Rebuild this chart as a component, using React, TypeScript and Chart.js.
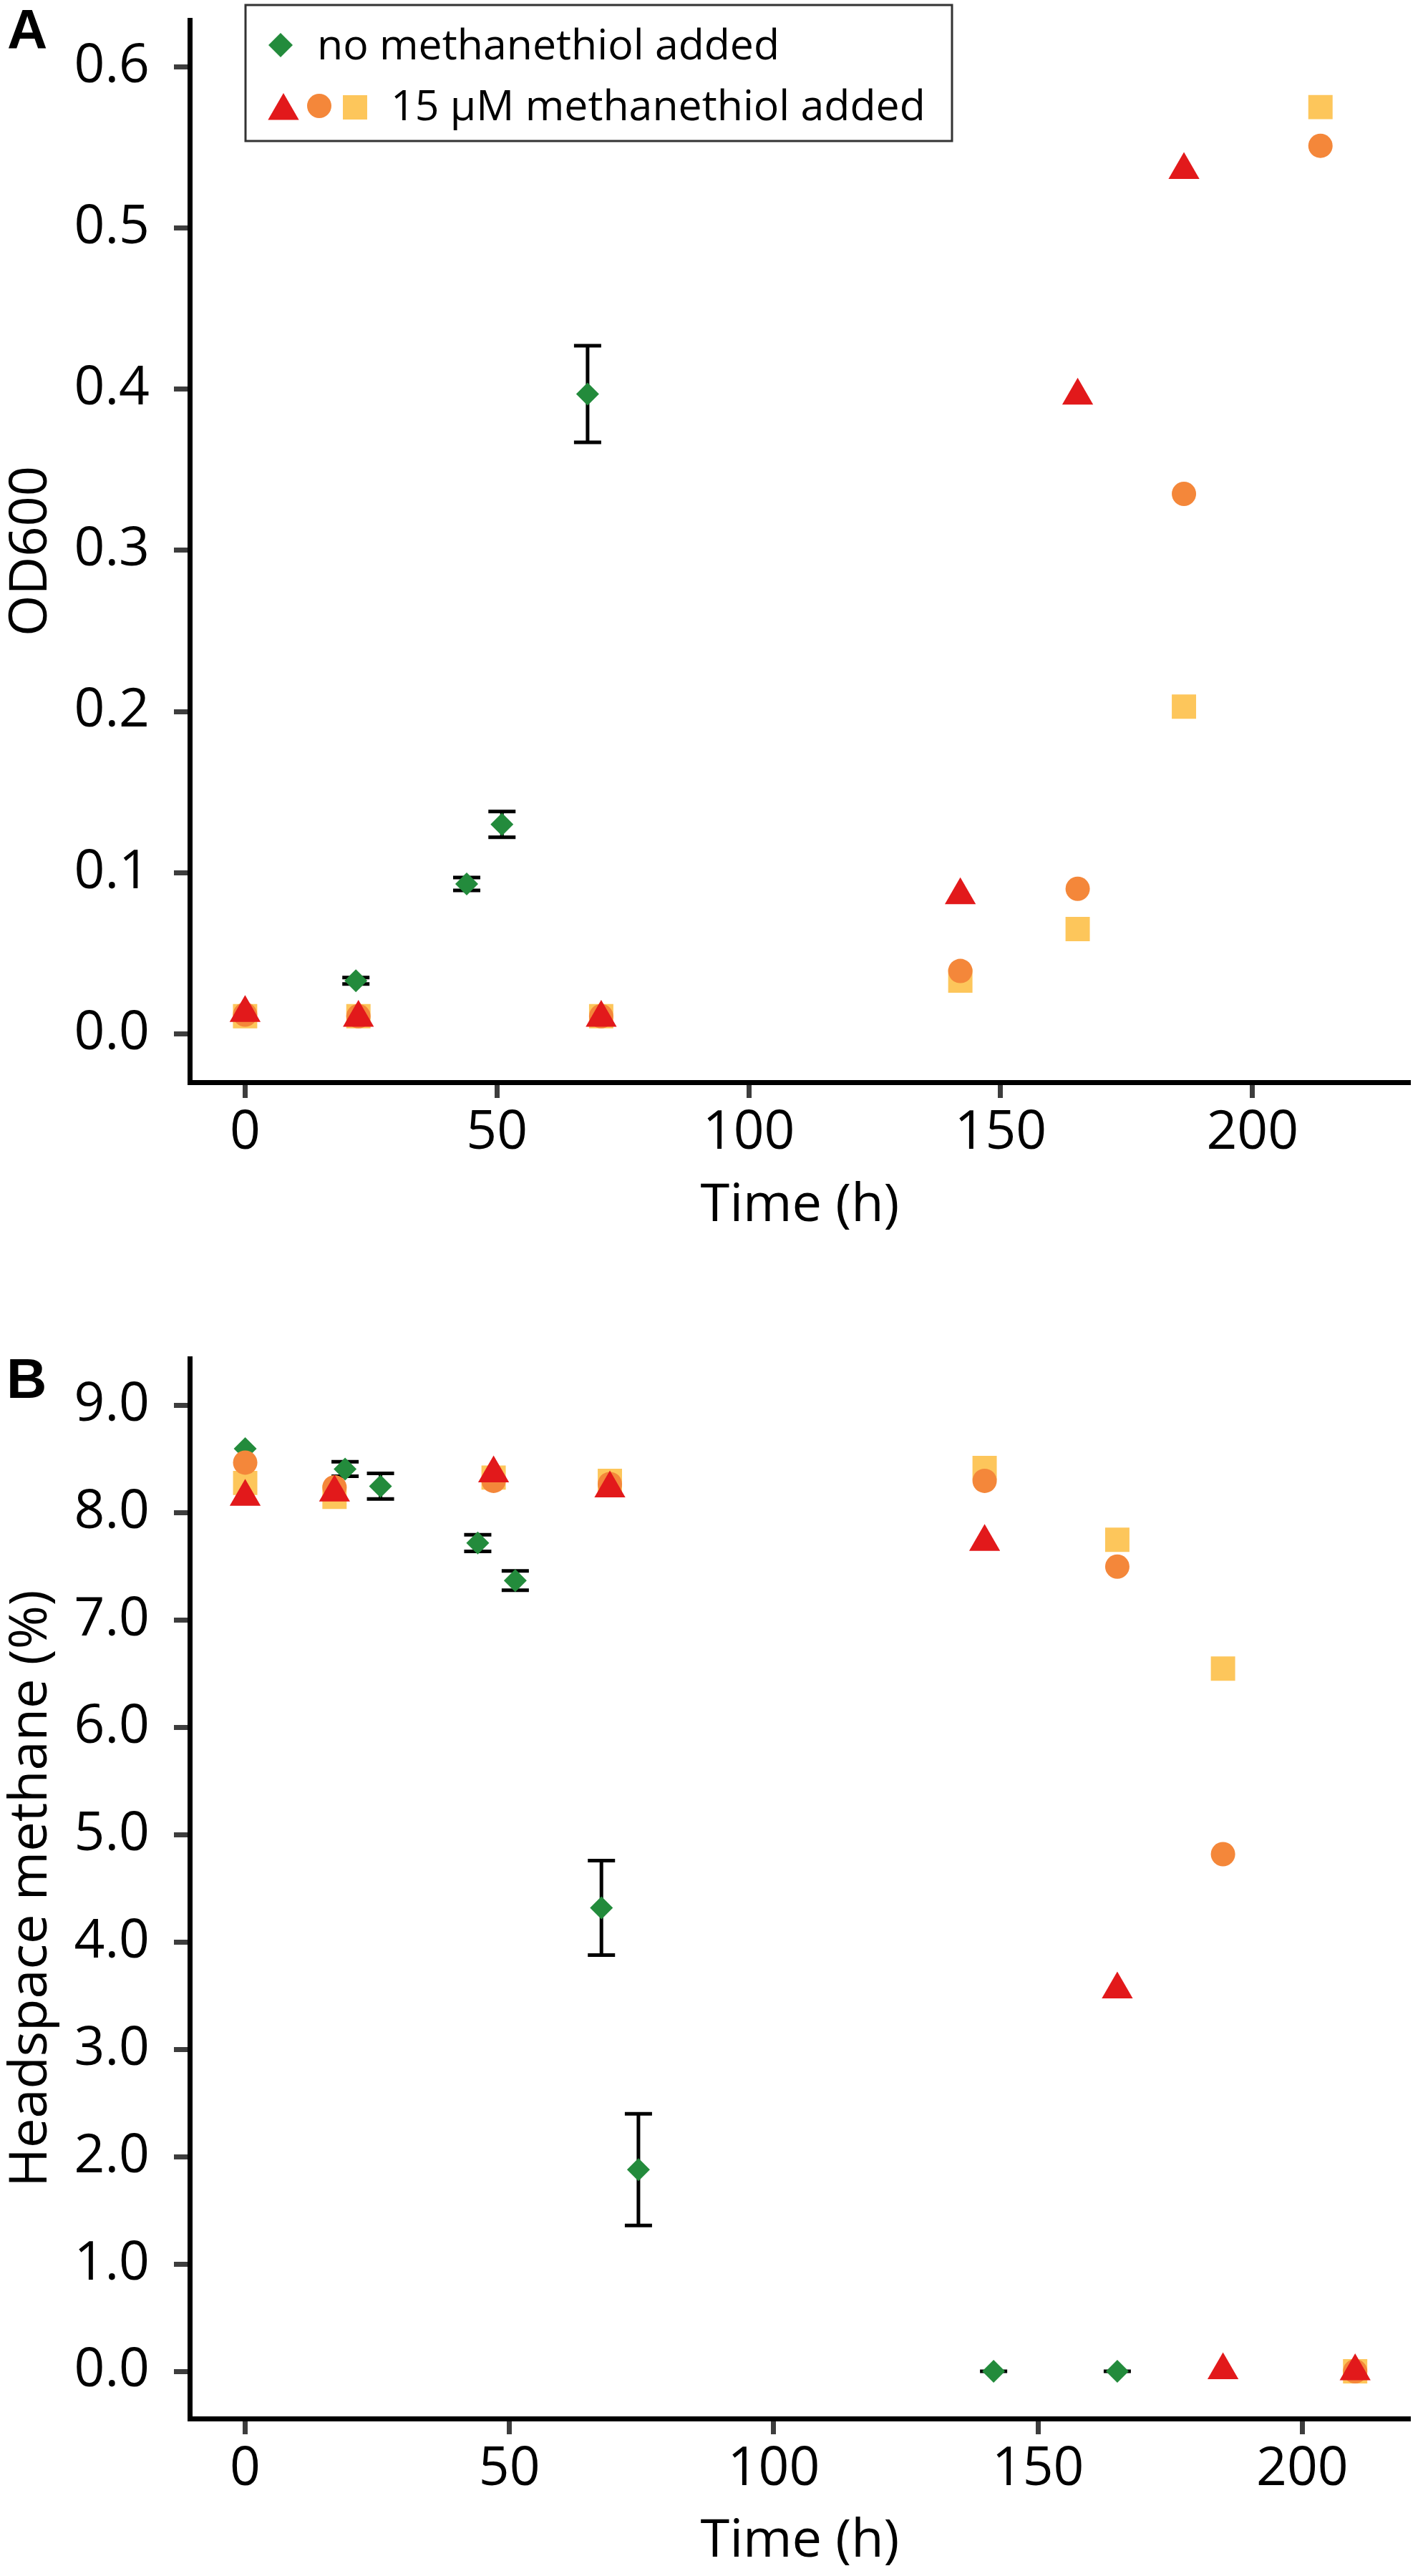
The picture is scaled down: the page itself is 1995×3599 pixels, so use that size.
import { useEffect, useRef } from 'react';
import { Chart, registerables } from 'chart.js';

Chart.register(...registerables);

// ---- panel A: OD600 ----
const greenTimesA = [22, 44, 51, 68];
const odGreen = [0.033, 0.093, 0.13, 0.397];
const odGreenErr = [0.002, 0.004, 0.008, 0.03];

const thiolTimesA = [0, 22.5, 70.7, 142, 165.3, 186.4, 213.5];
const odRed = [0.013, 0.01, 0.01, 0.086, 0.396, 0.536, null];
const odOrange = [0.012, 0.011, 0.011, 0.039, 0.09, 0.335, 0.551];
const odYellow = [0.011, 0.011, 0.011, 0.033, 0.065, 0.203, 0.575];

const yTicksA = [0, 0.1, 0.2, 0.3, 0.4, 0.5, 0.6];

// ---- panel B: headspace methane ----
const greenTimesB = [0, 18.9, 25.6, 44, 51.1, 67.4, 74.4, 141.6, 165];
const ch4Green = [8.6, 8.41, 8.25, 7.72, 7.37, 4.32, 1.88, 0, 0];
const ch4GreenErr = [null, 0.067, 0.12, 0.078, 0.09, 0.44, 0.52, 0, 0];

const thiolTimesB = [0, 16.9, 47, 69, 139.9, 165, 185, 210];
const ch4Red = [8.15, 8.19, 8.37, 8.23, 7.73, 3.56, 0.01, 0];
const ch4Orange = [8.47, 8.24, 8.3, 8.27, 8.3, 7.5, 4.82, 0];
const ch4Yellow = [8.28, 8.15, 8.33, 8.3, 8.42, 7.75, 6.55, 0];

const yTicksB = [0, 1, 2, 3, 4, 5, 6, 7, 8, 9];
const xTicks = [0, 50, 100, 150, 200];

const legendLabels = ['no methanethiol added', '15 \u00b5M methanethiol added'];

const RED = '#e2191b';
const ORANGE = '#f4873a';
const YELLOW = '#fdc65b';
const GREEN = '#238b3c';
const FONT = "'Open Sans', 'Noto Sans', sans-serif";

const pts = (xs: number[], ys: (number | null)[]) =>
  xs.map((x, i) => ({ x, y: ys[i] })).filter((p) => p.y !== null);

function drawMarker(ctx: CanvasRenderingContext2D, kind: string, x: number, y: number, r: number) {
  ctx.beginPath();
  if (kind === 'circle') ctx.arc(x, y, r, 0, Math.PI * 2);
  if (kind === 'rect') {
    const s = r * Math.SQRT1_2;
    ctx.rect(x - s, y - s, 2 * s, 2 * s);
  }
  if (kind === 'triangle') {
    ctx.moveTo(x, y - r);
    ctx.lineTo(x + r * 0.866, y + r / 2);
    ctx.lineTo(x - r * 0.866, y + r / 2);
  }
  if (kind === 'rectRot') {
    ctx.moveTo(x, y - r);
    ctx.lineTo(x + r, y);
    ctx.lineTo(x, y + r);
    ctx.lineTo(x - r, y);
  }
  ctx.closePath();
  ctx.fill();
}

function errorBars(id: string, times: number[], values: number[], errs: (number | null)[]) {
  return {
    id,
    beforeDatasetsDraw(chart: any) {
      const { ctx, scales } = chart;
      ctx.save();
      ctx.strokeStyle = '#000';
      ctx.lineWidth = 5;
      times.forEach((t, i) => {
        const e = errs[i];
        if (e === null) return;
        const px = scales.x.getPixelForValue(t);
        const top = scales.y.getPixelForValue(values[i] + e);
        const bot = scales.y.getPixelForValue(values[i] - e);
        ctx.beginPath();
        ctx.moveTo(px, top);
        ctx.lineTo(px, bot);
        ctx.moveTo(px - 19, top);
        ctx.lineTo(px + 19, top);
        ctx.moveTo(px - 19, bot);
        ctx.lineTo(px + 19, bot);
        ctx.stroke();
      });
      ctx.restore();
    },
  };
}

function panelLetter(id: string, letter: string, x: number, baseline: number) {
  return {
    id,
    afterDraw(chart: any) {
      const { ctx } = chart;
      ctx.save();
      ctx.fillStyle = '#000';
      ctx.font = "bold 78px 'Liberation Sans', Arial, sans-serif";
      ctx.textBaseline = 'alphabetic';
      ctx.fillText(letter, x, baseline);
      ctx.restore();
    },
  };
}

const legendBox = {
  id: 'legendBox',
  afterDraw(chart: any) {
    const { ctx } = chart;
    ctx.save();
    ctx.strokeStyle = '#333';
    ctx.lineWidth = 3;
    ctx.strokeRect(343, 7, 987, 190);
    ctx.fillStyle = GREEN;
    drawMarker(ctx, 'rectRot', 392, 63, 17);
    ctx.fillStyle = RED;
    drawMarker(ctx, 'triangle', 396, 155, 25);
    ctx.fillStyle = ORANGE;
    drawMarker(ctx, 'circle', 446, 148, 17);
    ctx.fillStyle = YELLOW;
    drawMarker(ctx, 'rect', 496, 150, 24);
    ctx.fillStyle = '#000';
    ctx.font = `59px ${FONT}`;
    ctx.textBaseline = 'alphabetic';
    ctx.fillText(legendLabels[0], 443, 83);
    ctx.fillText(legendLabels[1], 546, 168);
    ctx.restore();
  },
};

function datasets(green: any[], red: any[], orange: any[], yellow: any[]) {
  const base = { showLine: false, borderWidth: 0 };
  return [
    { ...base, label: 'red', data: red, pointStyle: 'triangle', pointRadius: 25, pointHoverRadius: 25, backgroundColor: RED, borderColor: RED },
    { ...base, label: 'orange', data: orange, pointStyle: 'circle', pointRadius: 17, pointHoverRadius: 17, backgroundColor: ORANGE, borderColor: ORANGE },
    { ...base, label: 'yellow', data: yellow, pointStyle: 'rect', pointRadius: 24, pointHoverRadius: 24, backgroundColor: YELLOW, borderColor: YELLOW },
    { ...base, label: 'green', data: green, pointStyle: 'rectRot', pointRadius: 16, pointHoverRadius: 16, backgroundColor: GREEN, borderColor: GREEN },
  ];
}

function scales(o: {
  xMin: number; xMax: number; yMin: number; yMax: number; yTicks: number[];
  yTitle: string; xAxisH: number; xTitlePad: number;
}) {
  const grid = { display: true, drawOnChartArea: false, drawTicks: true, tickLength: 22, tickWidth: 7, tickColor: '#3d3d3d' };
  const border = { display: true, color: '#000', width: 7 };
  return {
    x: {
      type: 'linear',
      min: o.xMin,
      max: o.xMax,
      afterBuildTicks: (s: any) => { s.ticks = xTicks.map((value) => ({ value })); },
      afterFit: (s: any) => { s.height = o.xAxisH; s.paddingLeft = 0; s.paddingRight = 0; },
      grid, border,
      ticks: { font: { family: FONT, size: 75 }, color: '#000', padding: 5, maxRotation: 0, autoSkip: false },
      title: { display: true, text: 'Time (h)', font: { family: FONT, size: 74 }, color: '#000', padding: { top: 0, bottom: o.xTitlePad } },
    },
    y: {
      type: 'linear',
      min: o.yMin,
      max: o.yMax,
      afterBuildTicks: (s: any) => { s.ticks = o.yTicks.map((value) => ({ value })); },
      afterFit: (s: any) => { s.width = 265; s.paddingTop = 0; s.paddingBottom = 0; },
      grid, border,
      ticks: { font: { family: FONT, size: 75 }, color: '#000', padding: 34, callback: (v: any) => Number(v).toFixed(1) },
      title: { display: true, text: o.yTitle, font: { family: FONT, size: 74 }, color: '#000', padding: 0 },
    },
  };
}

function useChart(ref: React.RefObject<HTMLCanvasElement | null>, make: (c: HTMLCanvasElement) => Chart) {
  useEffect(() => {
    if (!ref.current) return;
    const chart = make(ref.current);
    return () => chart.destroy();
  }, []);
}

export default function App() {
  const aRef = useRef<HTMLCanvasElement>(null);
  const bRef = useRef<HTMLCanvasElement>(null);

  useChart(aRef, (c) => new Chart(c, {
    type: 'scatter',
    data: {
      datasets: datasets(pts(greenTimesA, odGreen), pts(thiolTimesA, odRed), pts(thiolTimesA, odOrange), pts(thiolTimesA, odYellow)) as any,
    },
    options: {
      animation: false,
      responsive: false,
      devicePixelRatio: 1,
      layout: { padding: { top: 28, right: 10, left: 0, bottom: 0 } },
      plugins: { legend: { display: false }, tooltip: { enabled: false } },
      scales: scales({ xMin: -11, xMax: 231.3, yMin: -0.03, yMax: 0.629, yTicks: yTicksA, yTitle: 'OD600', xAxisH: 228, xTitlePad: 11 }) as any,
    },
    plugins: [errorBars('errA', greenTimesA, odGreen, odGreenErr), legendBox, panelLetter('letterA', 'A', 10, 68)],
  }));

  useChart(bRef, (c) => new Chart(c, {
    type: 'scatter',
    data: {
      datasets: datasets(pts(greenTimesB, ch4Green), pts(thiolTimesB, ch4Red), pts(thiolTimesB, ch4Orange), pts(thiolTimesB, ch4Yellow)) as any,
    },
    options: {
      animation: false,
      responsive: false,
      devicePixelRatio: 1,
      layout: { padding: { top: 158, right: 8, left: 0, bottom: 0 } },
      plugins: { legend: { display: false }, tooltip: { enabled: false } },
      scales: scales({ xMin: -10.5, xMax: 220.4, yMin: -0.44, yMax: 9.44, yTicks: yTicksB, yTitle: 'Headspace methane (%)', xAxisH: 220, xTitlePad: 4 }) as any,
    },
    plugins: [errorBars('errB', greenTimesB, ch4Green, ch4GreenErr), panelLetter('letterB', 'B', 9, 213)],
  }));

  return (
    <div style={{ position: 'absolute', left: 0, top: 0, width: 1995, background: '#fff' }}>
      <canvas ref={aRef} width={1995} height={1740} style={{ display: 'block' }} />
      <canvas ref={bRef} width={1995} height={1859} style={{ display: 'block' }} />
    </div>
  );
}
